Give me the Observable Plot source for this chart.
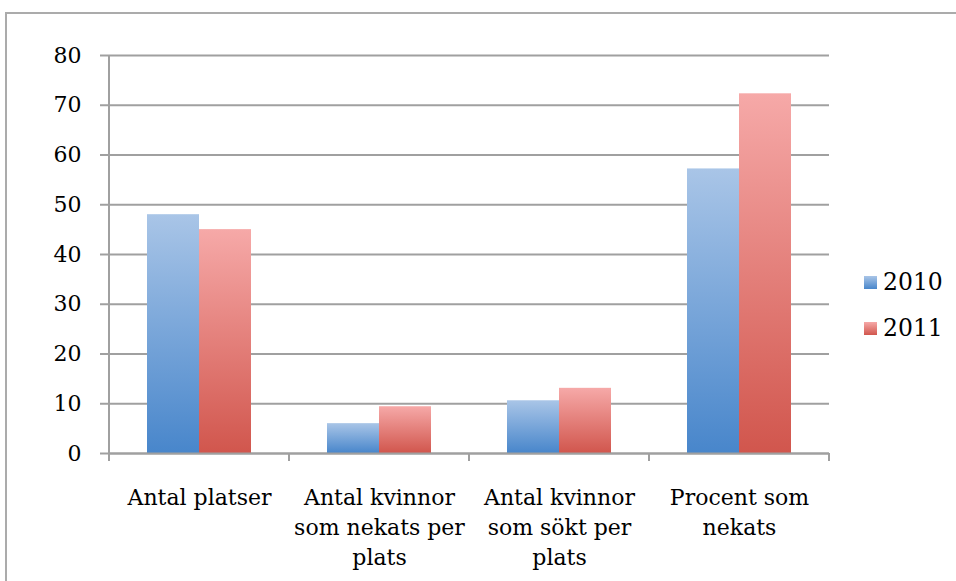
<!DOCTYPE html>
<html>
<head>
<meta charset="utf-8">
<script src="https://cdn.jsdelivr.net/npm/d3@7"></script>
<script src="https://cdn.jsdelivr.net/npm/@observablehq/plot@0.6"></script>
<style>
  html, body { margin: 0; padding: 0; background: #fff; }
  #wrap { position: relative; width: 956px; height: 581px; overflow: hidden; }
  #border { position: absolute; left: 5px; top: 12px; right: -10px; bottom: -10px;
            border-top: 2px solid #ababab; border-left: 2px solid #ababab; }
  #chart { position: absolute; left: 0; top: 0; }
  #legend { position: absolute; left: 864px; top: 259px; font-family: "DejaVu Serif", serif;
            font-size: 23.5px; color: #000; }
  .item { display: flex; align-items: center; height: 46px; }
  .sw { width: 13px; height: 13px; margin-right: 6px; }
</style>
</head>
<body>
<div id="wrap">
  <div id="border"></div>
  <div id="chart"></div>
  <div id="legend"></div>
</div>
<script>
const categories = ["Antal platser", "Antal kvinnor som nekats per plats", "Antal kvinnor som sökt per plats", "Procent som nekats"];
const tickLabels = ["Antal platser", "Antal kvinnor\nsom nekats per\nplats", "Antal kvinnor\nsom sökt per\nplats", "Procent som\nnekats"];
const years = ["2010", "2011"];
const values2010 = [48, 6, 10.6, 57.2];
const values2011 = [45, 9.4, 13.1, 72.3];
const yTicks = [0, 10, 20, 30, 40, 50, 60, 70, 80];

const gradients = {
  "2010": ["#a9c5e7", "#4886cb"],
  "2011": ["#f6a9a8", "#d1564d"]
};

const data = [];
categories.forEach((c, i) => {
  data.push({category: c, year: "2010", value: values2010[i]});
  data.push({category: c, year: "2011", value: values2011[i]});
});

const font = "DejaVu Serif, serif";

const defs = () => {
  const ns = "http://www.w3.org/2000/svg";
  const d = document.createElementNS(ns, "defs");
  for (const y of years) {
    const g = document.createElementNS(ns, "linearGradient");
    g.setAttribute("id", "grad" + y);
    g.setAttribute("x1", "0"); g.setAttribute("y1", "0");
    g.setAttribute("x2", "0"); g.setAttribute("y2", "1");
    const s1 = document.createElementNS(ns, "stop");
    s1.setAttribute("offset", "0"); s1.setAttribute("stop-color", gradients[y][0]);
    const s2 = document.createElementNS(ns, "stop");
    s2.setAttribute("offset", "1"); s2.setAttribute("stop-color", gradients[y][1]);
    g.appendChild(s1); g.appendChild(s2);
    d.appendChild(g);
  }
  return d;
};

const plot = Plot.plot({
  width: 956,
  height: 581,
  marginLeft: 109,
  marginRight: 127,
  marginTop: 55,
  marginBottom: 128,
  style: {fontFamily: font, fontSize: "22px", color: "#000", background: "transparent"},
  fx: {domain: categories, padding: 0, label: null},
  x: {domain: years, paddingInner: 0, paddingOuter: 0.73, axis: null},
  y: {domain: [0, 80], label: null},
  marks: [
    defs,
    Plot.gridY(yTicks, {stroke: "#a0a0a0", strokeOpacity: 1, strokeWidth: 2}),
    Plot.barY(data.filter(d => d.year === "2010"), {fx: "category", x: "year", y: "value", fill: "url(#grad2010)"}),
    Plot.barY(data.filter(d => d.year === "2011"), {fx: "category", x: "year", y: "value", fill: "url(#grad2011)"}),
    Plot.ruleY([0], {stroke: "#a0a0a0", strokeWidth: 2}),
    Plot.axisY({ticks: yTicks, tickSize: 9, tickPadding: 19, stroke: "#a0a0a0", strokeWidth: 2, fontSize: 22, fill: "#000", label: null}),
    Plot.axisFx({anchor: "bottom", tickSize: 0, tickPadding: 30, lineHeight: 1.36, fontSize: 22, fill: "#000",
      tickFormat: c => tickLabels[categories.indexOf(c)], label: null})
  ]
});

document.getElementById("chart").appendChild(plot);

// Y axis line and category boundary ticks from the fx scale
const fx = plot.scale("fx");
const y = plot.scale("y");
const svg = d3.select(plot);
const x0 = fx.range[0], x1 = fx.range[1];
const yb = y.apply(0), yt = y.apply(80);
const g = svg.append("g").attr("stroke", "#a0a0a0").attr("stroke-width", 2);
g.append("line").attr("x1", x0).attr("x2", x0).attr("y1", yt).attr("y2", yb + 8);
const step = (x1 - x0) / categories.length;
for (let i = 1; i <= categories.length; i++) {
  const xx = x0 + i * step;
  g.append("line").attr("x1", xx).attr("x2", xx).attr("y1", yb).attr("y2", yb + 8);
}

// Legend
const legend = document.getElementById("legend");
for (const yr of years) {
  const it = document.createElement("div");
  it.className = "item";
  const sw = document.createElement("div");
  sw.className = "sw";
  sw.style.background = `linear-gradient(${gradients[yr][0]}, ${gradients[yr][1]})`;
  const t = document.createElement("span");
  t.textContent = yr;
  it.appendChild(sw); it.appendChild(t);
  legend.appendChild(it);
}
</script>
</body>
</html>
